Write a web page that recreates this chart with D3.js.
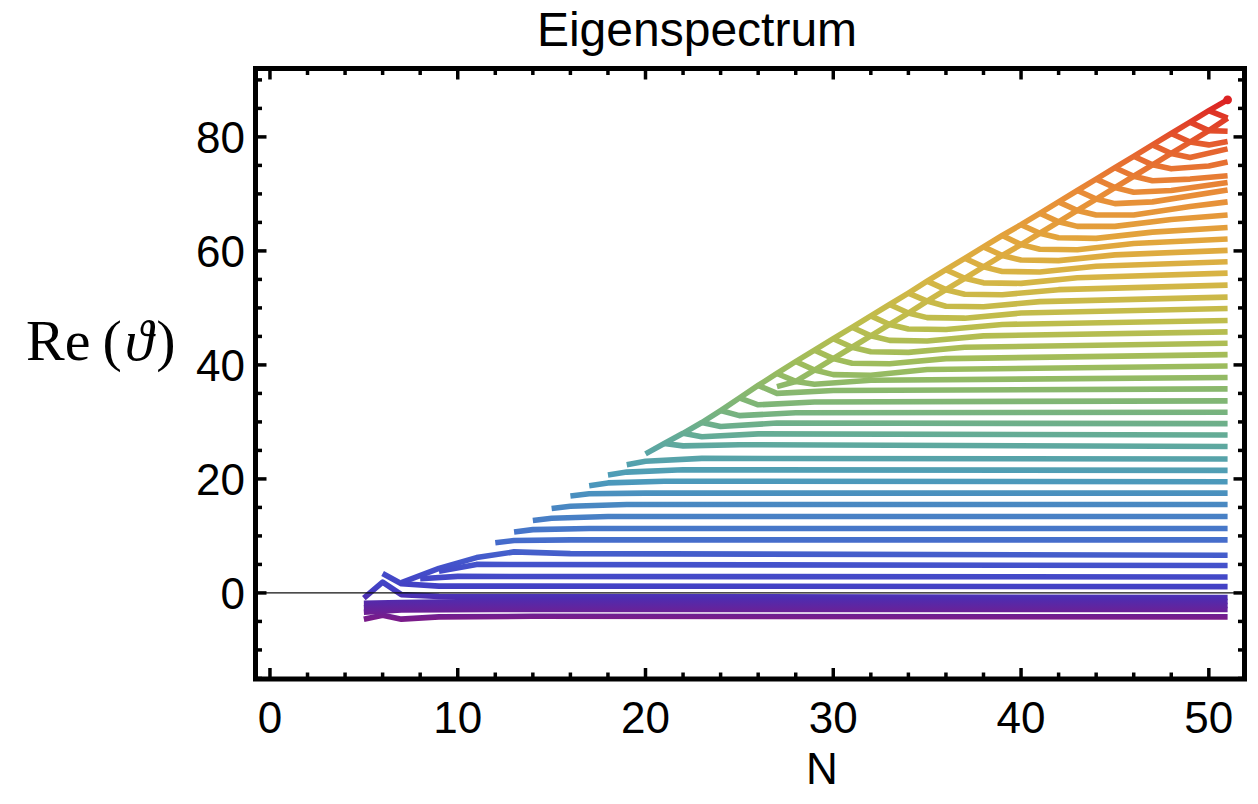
<!DOCTYPE html>
<html>
<head>
<meta charset="utf-8">
<script src="https://cdn.jsdelivr.net/npm/d3@7"></script>
<style>
  body { margin: 0; background: #fff; }
  svg { display: block; }
</style>
</head>
<body>
<div id="chart"></div>
<script>
// tick values
const xMajor = [0, 10, 20, 30, 40, 50];
const yMajor = [0, 20, 40, 60, 80];

// largest eigenvalue, N = 20 .. 51
const topStart = 20;
const topValues = [24.4, 26.2, 28.0, 29.9, 32.0, 34.2, 36.4, 38.5, 40.6, 42.6, 44.6, 46.6,
  48.6, 50.6, 52.6, 54.7, 56.7, 58.7, 60.7, 62.7, 64.6, 66.6, 68.6, 70.6, 72.6, 74.6,
  76.6, 78.6, 80.6, 82.6, 84.6, 86.5];

// second rising branch, N = 27 .. 51
const secondStart = 27;
const secondValues = [36.2, 37.1, 39.1, 41.1, 43.1, 45.1, 47.1, 49.1, 51.2, 53.2, 55.2,
  57.2, 59.2, 61.1, 63.1, 65.1, 67.1, 69.1, 71.1, 73.1, 75.1, 77.1, 79.1, 81.1, 83.3];

// the other eigenvalue tracks, as [N, Re] vertices
const tracks = [
  [[5, -4.6], [6, -3.9], [7, -4.6], [9, -4.2], [14, -4.1], [51, -4.2]],
  [[5, -3.4], [7, -3.0], [12, -2.9], [51, -2.9]],
  [[5, -2.6], [7, -2.4], [12, -2.2], [51, -2.2]],
  [[5, -1.8], [7, -1.7], [11, -1.5], [51, -1.5]],
  [[5, -0.9], [6, 1.9], [7, -0.3], [9, -0.6], [51, -0.8]],
  [[6, 3.4], [7, 1.6], [9, 1.2], [51, 1.1]],
  [[8, 2.5], [10, 2.9], [51, 2.8]],
  [[9, 3.8], [11, 5.0], [51, 4.8]],
  [[7, 1.8], [9, 4.3], [11, 6.2], [13, 7.2], [16, 6.9], [51, 6.6]],
  [[12, 8.8], [13, 9.2], [16, 9.3], [51, 9.3]],
  [[13, 10.7], [14, 11.1], [17, 11.3], [51, 11.3]],
  [[14, 12.7], [15, 13.1], [18, 13.4], [51, 13.4]],
  [[15, 14.8], [16, 15.2], [19, 15.5], [51, 15.5]],
  [[16, 17.0], [17, 17.4], [20, 17.5], [51, 17.5]],
  [[17, 18.8], [18, 19.3], [21, 19.6], [51, 19.5]],
  [[18, 20.7], [19, 21.2], [22, 21.6], [51, 21.5]],
  [[19, 22.5], [20, 23.1], [23, 23.6], [51, 23.5]],
  [[21, 26.2], [22, 25.8], [25, 26.0], [51, 25.7]],
  [[22, 28.0], [23, 27.4], [26, 27.9], [51, 27.7]],
  [[23, 29.9], [24, 29.2], [27, 29.8], [51, 29.7]],
  [[24, 32.0], [25, 31.1], [28, 31.6], [51, 31.7]],
  [[25, 34.2], [26, 33.0], [29, 33.5], [51, 33.7]],
  [[26, 36.4], [27, 35.0], [30, 35.5], [51, 35.8]],
  [[27, 38.5], [28, 37.1], [29, 36.6], [32, 37.3], [51, 37.8]],
  [[28, 40.6], [29, 39.1], [30, 38.3], [32, 38.2], [35, 39.2], [51, 39.8]],
  [[29, 42.6], [30, 41.1], [31, 40.3], [33, 40.2], [36, 41.1], [51, 41.8]],
  [[30, 44.6], [31, 43.1], [32, 42.3], [34, 42.2], [37, 43.1], [51, 43.8]],
  [[31, 46.6], [32, 45.1], [33, 44.3], [35, 44.2], [38, 45.1], [51, 45.8]],
  [[32, 48.6], [33, 47.1], [34, 46.3], [36, 46.2], [39, 47.1], [51, 47.8]],
  [[33, 50.6], [34, 49.1], [35, 48.3], [37, 48.2], [40, 49.1], [51, 49.9]],
  [[34, 52.6], [35, 51.2], [36, 50.3], [38, 50.2], [41, 51.1], [51, 51.9]],
  [[35, 54.7], [36, 53.2], [37, 52.4], [39, 52.3], [42, 53.2], [51, 54.0]],
  [[36, 56.7], [37, 55.2], [38, 54.4], [40, 54.3], [43, 55.3], [51, 56.1]],
  [[37, 58.7], [38, 57.2], [39, 56.4], [41, 56.3], [44, 57.3], [51, 58.1]],
  [[38, 60.7], [39, 59.2], [40, 58.4], [42, 58.3], [45, 59.3], [51, 60.1]],
  [[39, 62.7], [40, 61.1], [41, 60.3], [43, 60.2], [46, 61.3], [51, 62.1]],
  [[40, 64.6], [41, 63.1], [42, 62.3], [44, 62.2], [47, 63.3], [51, 64.1]],
  [[41, 66.6], [42, 65.1], [43, 64.3], [45, 64.3], [48, 65.5], [51, 66.3]],
  [[42, 68.6], [43, 67.1], [44, 66.3], [46, 66.3], [49, 67.8], [51, 68.6]],
  [[43, 70.6], [44, 69.1], [45, 68.3], [47, 68.6], [51, 70.7]],
  [[44, 72.6], [45, 71.1], [46, 70.3], [48, 70.6], [51, 72.0]],
  [[45, 74.6], [46, 73.1], [47, 72.3], [49, 72.6], [51, 73.2]],
  [[46, 76.6], [47, 75.1], [48, 74.4], [50, 74.9], [51, 75.6]],
  [[47, 78.6], [48, 77.1], [49, 76.4], [51, 77.9]],
  [[48, 80.6], [49, 79.1], [50, 78.6], [51, 79.2]],
  [[49, 82.6], [50, 81.1], [51, 81.0]],
  [[50, 84.6], [51, 83.3]]
];

// newest eigenvalue at N = 51 (single point)
const newest = [51, 86.5];

const W = 1258, H = 804;
const svg = d3.select('#chart').append('svg')
  .attr('width', W)
  .attr('height', H);

const x = d3.scaleLinear().domain([-0.77, 51.9]).range([255.5, 1244.5]);
const y = d3.scaleLinear().domain([-15.1, 92]).range([679, 68.5]);

// colour by height, like a Rainbow colour function
const vMin = -4.6, vMax = 86.5;
const stops = [
  [0.00, '#7a1b89'], [0.04, '#4e2cb0'], [0.06, '#4340c4'], [0.105, '#4452cb'],
  [0.16, '#4672cb'], [0.27, '#4c9bba'], [0.35, '#62ab98'], [0.41, '#7db578'],
  [0.49, '#9dbc5c'], [0.57, '#bdbd4c'], [0.655, '#d6b545'], [0.73, '#e2a53c'],
  [0.82, '#e88c37'], [0.91, '#e5602e'], [1.00, '#dc2222']
];
const grad = svg.append('defs').append('linearGradient')
  .attr('id', 'rainbow')
  .attr('gradientUnits', 'userSpaceOnUse')
  .attr('x1', 0).attr('x2', 0)
  .attr('y1', y(vMin)).attr('y2', y(vMax));
grad.selectAll('stop').data(stops).enter().append('stop')
  .attr('offset', d => d[0])
  .attr('stop-color', d => d[1]);

const line = d3.line().x(d => x(d[0])).y(d => y(d[1]));

const topTrack = topValues.map((v, i) => [topStart + i, v]);
const secondTrack = secondValues.map((v, i) => [secondStart + i, v]);
const allTracks = tracks.concat([secondTrack, topTrack]);

const plot = svg.append('g');

plot.selectAll('path.track')
  .data(allTracks)
  .enter()
  .append('path')
  .attr('class', 'track')
  .attr('d', line)
  .attr('fill', 'none')
  .attr('stroke', 'url(#rainbow)')
  .attr('stroke-width', 5.6)
  .attr('stroke-linejoin', 'round')
  .attr('stroke-linecap', 'butt');

plot.append('circle')
  .attr('cx', x(newest[0]))
  .attr('cy', y(newest[1]))
  .attr('r', 4.4)
  .attr('fill', '#dc2222');

// y = 0 axis line
svg.append('line')
  .attr('x1', x(-0.77)).attr('x2', x(51.9))
  .attr('y1', y(0)).attr('y2', y(0))
  .attr('stroke', '#111')
  .attr('stroke-width', 1.2);

// frame ticks, inward on all four sides
const ticks = svg.append('g').attr('stroke', '#000').attr('stroke-width', 3.5);
const xMinor = d3.range(0, 52, 2).filter(v => v % 10 !== 0);
const yMinor = d3.range(-15, 92, 5).filter(v => v % 20 !== 0);

function xTick(v, len) {
  ticks.append('line').attr('x1', x(v)).attr('x2', x(v))
    .attr('y1', y.range()[0]).attr('y2', y.range()[0] - len);
  ticks.append('line').attr('x1', x(v)).attr('x2', x(v))
    .attr('y1', y.range()[1]).attr('y2', y.range()[1] + len);
}
function yTick(v, len) {
  ticks.append('line').attr('y1', y(v)).attr('y2', y(v))
    .attr('x1', x.range()[0]).attr('x2', x.range()[0] + len);
  ticks.append('line').attr('y1', y(v)).attr('y2', y(v))
    .attr('x1', x.range()[1]).attr('x2', x.range()[1] - len);
}
xMajor.forEach(v => xTick(v, 11));
xMinor.forEach(v => xTick(v, 6.5));
yMajor.forEach(v => yTick(v, 11));
yMinor.forEach(v => yTick(v, 6.5));

svg.append('rect')
  .attr('x', 255.5).attr('y', 68.5)
  .attr('width', 989).attr('height', 610.5)
  .attr('fill', 'none')
  .attr('stroke', '#000')
  .attr('stroke-width', 5);

// tick labels
const font = 'Liberation Sans, Arial, sans-serif';
svg.selectAll('text.xl').data(xMajor).enter().append('text')
  .attr('x', d => x(d)).attr('y', 733)
  .attr('text-anchor', 'middle')
  .attr('font-family', font).attr('font-size', 44)
  .text(d => d);
svg.selectAll('text.yl').data(yMajor).enter().append('text')
  .attr('x', 245).attr('y', d => y(d) + 16)
  .attr('text-anchor', 'end')
  .attr('font-family', font).attr('font-size', 44)
  .text(d => d);

svg.append('text')
  .attr('x', 697).attr('y', 46)
  .attr('text-anchor', 'middle')
  .attr('font-family', font).attr('font-size', 48)
  .text('Eigenspectrum');

svg.append('text')
  .attr('x', 822).attr('y', 784)
  .attr('text-anchor', 'middle')
  .attr('font-family', font).attr('font-size', 44)
  .text('N');

const ylab = svg.append('text')
  .attr('x', 26).attr('y', 360)
  .attr('font-family', 'Liberation Serif, Times New Roman, serif')
  .attr('font-size', 58);
ylab.append('tspan').text('Re');
ylab.append('tspan').attr('dx', 12).text('(');
ylab.append('tspan').attr('dx', 3).attr('font-style', 'italic').text('\u03d1');
ylab.append('tspan').attr('dx', 3).text(')');
</script>
</body>
</html>
